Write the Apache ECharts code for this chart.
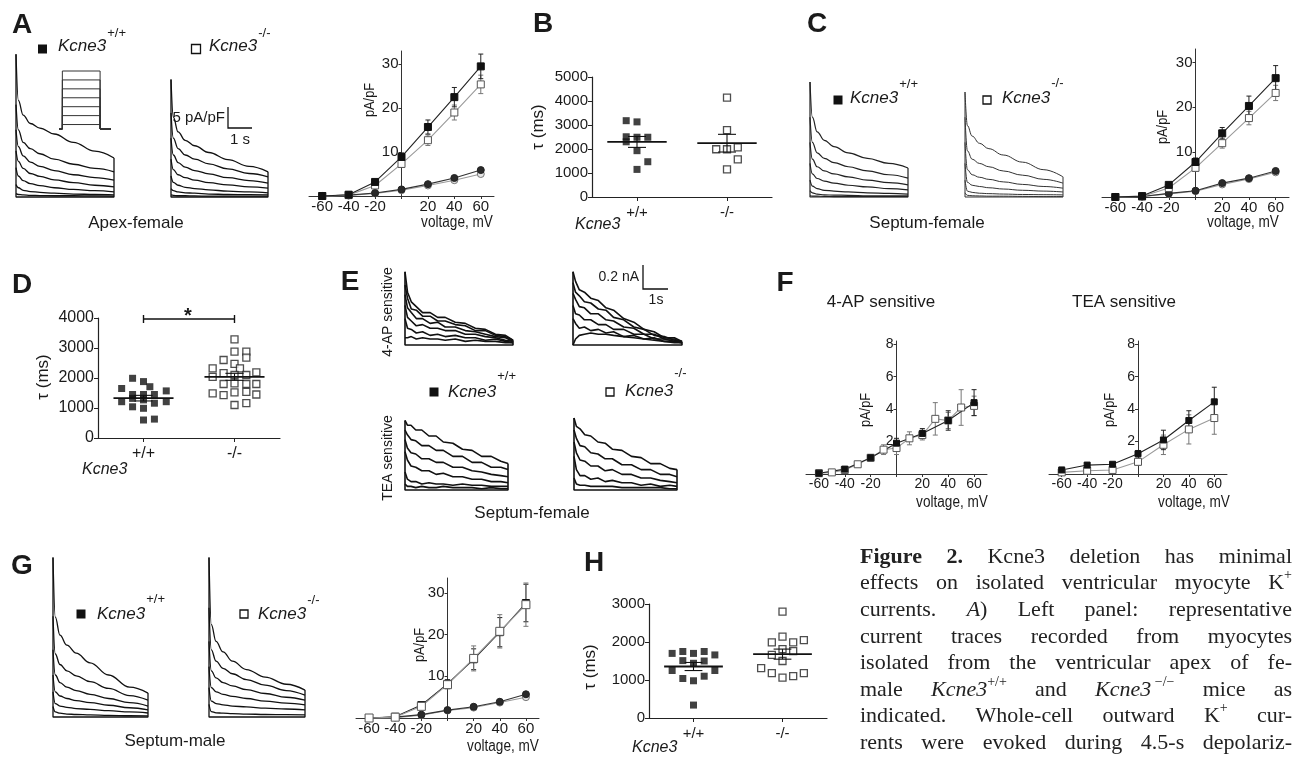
<!DOCTYPE html>
<html>
<head>
<meta charset="utf-8">
<script src="https://cdn.jsdelivr.net/npm/echarts@6/dist/echarts.min.js"></script>
<style>html,body{margin:0;padding:0;background:#fff}#chart{width:1294px;height:757px}</style>
</head>
<body>
<div id="chart"></div>
<script>
// ---------- data ----------
const ivVoltage = [-60, -40, -20, 0, 20, 40, 60];
const fVoltageKO = [-60, -50, -40, -30, -20, -10, 0, 10, 20, 30, 40, 50, 60];

// A) apex-female IV, pA/pF
const aPeakWT = [0, 0.3, 3.2, 8.9, 15.7, 22.5, 29.5];
const aPeakWTErr = [0, 0.1, 0.4, 0.9, 1.6, 2.2, 2.8];
const aPeakKO = [0, 0.2, 2.4, 7.3, 12.7, 19.0, 25.4];
const aPeakKOErr = [0, 0.1, 0.3, 0.8, 1.2, 1.7, 2.1];
const aSteadyWT = [0, 0.2, 0.7, 1.5, 2.7, 4.1, 5.9];
const aSteadyKO = [0, 0.1, 0.6, 1.3, 2.4, 3.6, 5.0];

// C) septum-female IV
const cPeakWT = [0, 0.2, 2.7, 7.8, 14.2, 20.3, 26.5];
const cPeakWTErr = [0, 0.1, 0.4, 0.9, 1.3, 2.2, 2.8];
const cPeakKO = [0, 0.1, 2.0, 6.5, 12.0, 17.6, 23.2];
const cPeakKOErr = [0, 0.1, 0.3, 0.8, 1.1, 1.5, 1.7];
const cSteadyWT = [0, 0.1, 0.8, 1.4, 3.1, 4.2, 5.8];
const cSteadyKO = [0, 0.1, 0.7, 1.3, 2.8, 4.0, 5.5];

// G) septum-male IV
const gPeakWT = [0, 0.3, 3.1, 8.2, 14.1, 20.6, 27.6];
const gPeakWTErr = [0, 0.1, 0.5, 1.0, 2.5, 3.5, 4.5];
const gPeakKO = [0, 0.2, 2.8, 8.0, 14.3, 20.8, 27.2];
const gPeakKOErr = [0, 0.1, 0.5, 1.0, 3.0, 4.0, 5.2];
const gSteadyWT = [0, 0.2, 0.8, 1.9, 2.7, 3.9, 5.7];
const gSteadyKO = [0, 0.1, 0.7, 1.8, 2.5, 3.7, 5.0];

// F) 4-AP and TEA sensitive IV
const f4apWT = [0.05, 0.3, 1.0, 1.9, 2.5, 3.3, 4.4];
const f4apWTErr = [0, 0.05, 0.1, 0.3, 0.3, 0.6, 0.8];
const f4apKO = [0.05, 0.1, 0.25, 0.6, 1.0, 1.5, 1.6, 2.2, 2.4, 3.4, 3.3, 4.1, 4.2];
const f4apKOErr = [0, 0, 0.05, 0.1, 0.2, 0.3, 0.4, 0.4, 0.3, 1.0, 0.5, 1.1, 0.6];
const fTeaWT = [0.25, 0.55, 0.6, 1.25, 2.1, 3.3, 4.45];
const fTeaWTErr = [0.05, 0.1, 0.1, 0.2, 0.6, 0.6, 0.9];
const fTeaKO = [0.1, 0.2, 0.25, 0.75, 1.8, 2.75, 3.45];
const fTeaKOErr = [0.05, 0.05, 0.1, 0.2, 0.6, 0.9, 1.0];

// B, D, H) tau (ms), with horizontal spread of the dots in category units
const bTauWT = [3180, 3130, 2510, 2490, 2490, 2300, 1930, 1470, 1150];
const bJitWT = [-0.12, 0, -0.12, 0, 0.12, -0.12, 0, 0.12, 0];
const bTauKO = [4140, 2790, 1990, 1990, 2070, 1570, 1150];
const bJitKO = [0, 0, -0.12, 0, 0.12, 0.12, 0];

const dTauWT = [1990, 1880, 1650, 1710, 1570, 1450, 1450, 1450, 1210, 1320, 1270, 1160, 1210, 1040, 990, 600, 630];
const dJitWT = [-0.12, 0, -0.24, 0.07, 0.25, -0.12, 0, 0.12, -0.24, -0.12, 0, 0.12, 0.25, -0.12, 0, 0, 0.12];
const dTauKO = [3290, 2880, 2880, 2680, 2600, 2470, 2320, 2320, 2160, 2190, 2040, 2100, 2100, 1800, 1820, 1800, 1800, 1490, 1520, 1540, 1430, 1450, 1100, 1160];
const dJitKO = [0, 0, 0.13, 0.13, -0.12, 0, -0.24, 0.06, -0.12, 0.24, -0.24, 0, 0.13, -0.12, 0, 0.13, 0.24, -0.24, 0, 0.13, -0.12, 0.24, 0, 0.13];

const hTauWT = [1700, 1750, 1700, 1750, 1660, 1510, 1500, 1440, 1250, 1250, 1040, 980, 1100, 340];
const hJitWT = [-0.24, -0.12, 0, 0.12, 0.24, -0.12, 0.12, 0, -0.24, 0.24, -0.12, 0, 0.12, 0];
const hTauKO = [2800, 2140, 1990, 1990, 1810, 1760, 1660, 1500, 1310, 1180, 1060, 1100, 2050, 1180];
const hJitKO = [0, 0, -0.12, 0.12, 0, 0.12, -0.12, 0, -0.24, -0.12, 0, 0.12, 0.24, 0.24];

// current traces: time (s) and current (pA/pF)
const traceT = [0, 0.1, 0.3, 0.6, 1.0, 1.6, 2.4, 3.3, 4.1];
const aTracesWT = [
  [34, 23, 19.5, 17.5, 16.4, 15, 13, 10.9, 9.3],
  [22, 16, 13, 11.5, 10.3, 9, 7.8, 6.8, 6.0],
  [16, 12, 9.8, 8.3, 7.3, 6.3, 5.3, 4.6, 4.0],
  [11, 8.5, 6.8, 5.6, 4.9, 4.1, 3.4, 2.8, 2.4],
  [7, 5, 3.9, 3.2, 2.7, 2.2, 1.8, 1.5, 1.2],
  [3, 2.2, 1.6, 1.3, 1.1, 0.9, 0.7, 0.6, 0.5],
  [0.8, 0.6, 0.5, 0.4, 0.35, 0.3, 0.3, 0.25, 0.2]
];
const aTracesKO = [
  [28, 19, 15.5, 13.5, 12.2, 10.6, 8.9, 7.3, 6.0],
  [20, 14, 11.5, 10, 9, 7.9, 6.7, 5.6, 4.8],
  [14, 10, 8.2, 7.1, 6.3, 5.5, 4.6, 3.9, 3.3],
  [9, 6.5, 5.3, 4.6, 4.0, 3.4, 2.9, 2.4, 2.1],
  [5, 3.5, 2.8, 2.3, 2.0, 1.7, 1.4, 1.2, 1.0],
  [2, 1.5, 1.2, 1.0, 0.9, 0.7, 0.6, 0.55, 0.5],
  [0.5, 0.4, 0.3, 0.3, 0.25, 0.2, 0.2, 0.2, 0.2]
];
const cTracesWT = [
  [27.4, 19, 15.5, 13.5, 12, 10.5, 9.2, 8, 6.9],
  [19, 13, 10.5, 9.2, 8.2, 7.2, 6.2, 5.3, 4.5],
  [13, 9, 7.2, 6.2, 5.5, 4.8, 4.0, 3.4, 2.9],
  [8, 5.5, 4.4, 3.8, 3.3, 2.8, 2.4, 2.0, 1.7],
  [4, 2.6, 2.0, 1.6, 1.4, 1.2, 1.0, 0.85, 0.7],
  [1.5, 1.0, 0.7, 0.5, 0.45, 0.4, 0.3, 0.3, 0.25],
  [0.3, 0.2, 0.2, 0.15, 0.1, 0.1, 0.1, 0.1, 0.1]
];
const cTracesKO = [
  [25, 17, 14.5, 12.8, 11.5, 10, 8.3, 6.5, 4.8],
  [19, 11, 9, 8, 7.2, 6.2, 5.2, 4.2, 3.3],
  [13, 6.5, 5.3, 4.7, 4.2, 3.6, 3.0, 2.5, 2.1],
  [8, 3.5, 2.8, 2.5, 2.2, 1.9, 1.6, 1.4, 1.2],
  [4, 1.4, 1.1, 0.9, 0.8, 0.7, 0.6, 0.55, 0.5],
  [1, 0.4, 0.3, 0.25, 0.2, 0.2, 0.15, 0.1, 0.1]
];
const gTracesWT = [
  [38, 23.8, 19.5, 17.1, 15.2, 12.9, 10, 7.1, 5.7],
  [24, 15, 12.5, 11, 9.8, 8.4, 6.8, 5.1, 4.0],
  [16, 10, 8.2, 7.1, 6.3, 5.4, 4.4, 3.4, 2.6],
  [10, 6, 5, 4.4, 3.9, 3.4, 2.8, 2.2, 1.7],
  [6, 3.2, 2.6, 2.3, 2.0, 1.8, 1.5, 1.2, 0.95],
  [2.5, 1.2, 0.9, 0.7, 0.6, 0.5, 0.4, 0.3, 0.25]
];
const gTracesKO = [
  [38, 22, 18, 15.5, 13.3, 11.3, 9.5, 7.8, 6.4],
  [26, 16, 13.3, 11.6, 10.3, 8.9, 7.6, 6.3, 5.2],
  [18, 11, 9.3, 8.2, 7.4, 6.5, 5.6, 4.7, 4.0],
  [12, 7, 6.0, 5.4, 4.9, 4.4, 3.8, 3.3, 2.9],
  [7, 3.8, 3.2, 2.9, 2.6, 2.4, 2.1, 1.9, 1.7],
  [3, 1.3, 1.0, 0.9, 0.8, 0.7, 0.6, 0.55, 0.5]
];

// E) 4-AP / TEA sensitive traces: time (s) and current (nA)
const eT = [0, 0.1, 0.25, 0.45, 0.7, 1.0, 1.3, 1.6, 2.0, 2.4, 2.8, 3.2, 3.6, 4.0, 4.3];
const e4apWT = [
  [0.61, 0.44, 0.36, 0.32, 0.27, 0.27, 0.23, 0.23, 0.19, 0.18, 0.14, 0.13, 0.09, 0.08, 0.04],
  [0.50, 0.39, 0.30, 0.29, 0.24, 0.24, 0.20, 0.20, 0.17, 0.16, 0.12, 0.12, 0.08, 0.07, 0.04],
  [0.42, 0.31, 0.27, 0.22, 0.22, 0.18, 0.19, 0.15, 0.15, 0.12, 0.11, 0.09, 0.07, 0.06, 0.03],
  [0.33, 0.23, 0.20, 0.16, 0.17, 0.14, 0.14, 0.12, 0.12, 0.09, 0.09, 0.07, 0.06, 0.04, 0.03],
  [0.22, 0.14, 0.13, 0.10, 0.11, 0.08, 0.09, 0.07, 0.08, 0.06, 0.06, 0.04, 0.05, 0.03, 0.02],
  [0.06, 0.06, 0.07, 0.05, 0.06, 0.05, 0.05, 0.04, 0.05, 0.03, 0.04, 0.03, 0.03, 0.02, 0.02]
];
const e4apKO = [
  [0.61, 0.53, 0.46, 0.44, 0.39, 0.37, 0.31, 0.29, 0.22, 0.19, 0.13, 0.11, 0.06, 0.06, 0.03],
  [0.52, 0.44, 0.41, 0.36, 0.35, 0.30, 0.29, 0.23, 0.21, 0.15, 0.13, 0.08, 0.07, 0.04, 0.03],
  [0.43, 0.38, 0.32, 0.31, 0.26, 0.26, 0.21, 0.20, 0.15, 0.14, 0.09, 0.09, 0.05, 0.05, 0.02],
  [0.33, 0.26, 0.25, 0.21, 0.21, 0.17, 0.17, 0.13, 0.13, 0.09, 0.09, 0.05, 0.05, 0.03, 0.02],
  [0.22, 0.18, 0.14, 0.15, 0.12, 0.13, 0.10, 0.11, 0.07, 0.08, 0.05, 0.06, 0.03, 0.03, 0.02],
  [0.00, 0.05, 0.08, 0.09, 0.10, 0.09, 0.09, 0.08, 0.07, 0.06, 0.05, 0.04, 0.03, 0.02, 0.02]
];
const eTeaWT = [
  [0.58, 0.54, 0.54, 0.50, 0.50, 0.45, 0.45, 0.40, 0.39, 0.34, 0.33, 0.28, 0.28, 0.24, 0.22],
  [0.50, 0.46, 0.42, 0.41, 0.37, 0.37, 0.33, 0.33, 0.28, 0.28, 0.23, 0.23, 0.19, 0.19, 0.17],
  [0.42, 0.35, 0.31, 0.30, 0.26, 0.26, 0.23, 0.23, 0.19, 0.19, 0.16, 0.15, 0.13, 0.12, 0.11],
  [0.32, 0.25, 0.20, 0.19, 0.16, 0.16, 0.13, 0.14, 0.11, 0.11, 0.09, 0.09, 0.07, 0.07, 0.06],
  [0.15, 0.09, 0.07, 0.07, 0.05, 0.06, 0.05, 0.05, 0.04, 0.05, 0.04, 0.04, 0.03, 0.03, 0.03],
  [0.05, 0.03, 0.03, 0.02, 0.03, 0.02, 0.02, 0.03, 0.02, 0.02, 0.02, 0.01, 0.02, 0.01, 0.01]
];
const eTeaKO = [
  [0.60, 0.53, 0.51, 0.46, 0.45, 0.40, 0.39, 0.34, 0.33, 0.28, 0.27, 0.22, 0.22, 0.18, 0.17],
  [0.50, 0.43, 0.37, 0.36, 0.31, 0.30, 0.26, 0.26, 0.21, 0.21, 0.17, 0.17, 0.13, 0.13, 0.11],
  [0.40, 0.31, 0.25, 0.24, 0.20, 0.20, 0.16, 0.17, 0.13, 0.13, 0.10, 0.10, 0.08, 0.07, 0.06],
  [0.28, 0.17, 0.12, 0.12, 0.09, 0.10, 0.07, 0.08, 0.06, 0.06, 0.04, 0.05, 0.03, 0.04, 0.03],
  [0.10, 0.05, 0.04, 0.04, 0.03, 0.03, 0.03, 0.03, 0.02, 0.02, 0.02, 0.02, 0.02, 0.01, 0.01]
];

// voltage protocol (mV), step from 0 to 4.5 s
const protocolSteps = [-60, -40, -20, 0, 20, 40, 60];
const protocolHold = -70;
const protocolT = [-0.4, 0, 4.5, 5.8];

const captionLines = [
  [[['Figure', 'b']], [['2.', 'b']], 'Kcne3', 'deletion', 'has', 'minimal'],
  ['effects', 'on', 'isolated', 'ventricular', 'myocyte', [['K', 'r'], ['+', 's']]],
  ['currents.', [['A', 'i'], [')', 'r']], 'Left', 'panel:', 'representative'],
  ['current', 'traces', 'recorded', 'from', 'myocytes'],
  ['isolated', 'from', 'the', 'ventricular', 'apex', 'of', 'fe-'],
  ['male', [['Kcne3', 'i'], ['+/+', 's']], 'and', [['Kcne3', 'i'], [' \u2212/\u2212', 's']], 'mice', 'as'],
  ['indicated.', 'Whole-cell', 'outward', [['K', 'r'], ['+', 's']], 'cur-'],
  ['rents', 'were', 'evoked', 'during', '4.5-s', 'depolariz-']
];

// ---------- building ----------
const SANS = '"Liberation Sans", Arial, Helvetica, sans-serif';
const SERIF = '"Liberation Serif", "Times New Roman", serif';
const INK = '#1a1a1a';

const chartDom = document.getElementById('chart');
const myChart = echarts.init(chartDom);

const grids = [], xAxes = [], yAxes = [], series = [], graphics = [];
const ctx = document.createElement('canvas').getContext('2d');
function mw(text, font) { ctx.font = font; return ctx.measureText(text).width; }

function addGrid(left, top, width, height, xa, ya) {
  const gi = grids.length;
  grids.push({ left, top, width, height, containLabel: false });
  xAxes.push(Object.assign({ gridIndex: gi }, xa));
  yAxes.push(Object.assign({ gridIndex: gi }, ya));
  return gi;
}

function txt(x, y, text, font, align, rotation, fill, scaleX) {
  return {
    type: 'text', x, y, rotation: rotation || 0, scaleX: scaleX || 1, silent: true,
    style: {
      text, font, fill: fill || INK,
      textAlign: align || 'center', align: align || 'center',
      textVerticalAlign: 'middle', verticalAlign: 'middle'
    }
  };
}

// trace panels
function traceGrid(left, width, base, pxPerUnit, ymax, xmax) {
  const h = ymax * pxPerUnit;
  return addGrid(left, base - h, width, h,
    { type: 'value', show: false, min: 0, max: xmax },
    { type: 'value', show: false, min: 0, max: ymax });
}
function addTraces(gi, times, traces, color, width, smooth) {
  const tEnd = times[times.length - 1];
  traces.forEach(v => {
    series.push({ type: 'line', xAxisIndex: gi, yAxisIndex: gi, data: v.map((y, i) => [times[i], y]),
      smooth: smooth, smoothMonotone: 'x', symbol: 'none', clip: false, silent: true,
      lineStyle: { color, width } });
  });
  const peak = Math.max(...traces.map(v => v[0]));
  const endMax = Math.max(...traces.map(v => v[v.length - 1]));
  series.push({ type: 'line', xAxisIndex: gi, yAxisIndex: gi, data: [[0, peak], [0, 0], [tEnd, 0], [tEnd, endMax]],
    symbol: 'none', clip: false, silent: true, lineStyle: { color, width } });
}

// IV panels: the y axis sits on 0 mV
function ivGrid(left, top, width, height, ymax, yInterval, fs) {
  return addGrid(left, top, width, height,
    {
      type: 'value', min: -70, max: 70,
      axisLine: { onZero: true, lineStyle: { color: '#333', width: 1 } },
      axisTick: { show: true, customValues: [-60, -40, -20, 0, 20, 40, 60], length: 3, lineStyle: { color: '#333' } },
      axisLabel: { customValues: [-60, -40, -20, 20, 40, 60], fontFamily: SANS, fontSize: fs, color: INK, margin: 3 },
      splitLine: { show: false }
    },
    {
      type: 'value', min: 0, max: ymax, interval: yInterval, offset: -width / 2,
      axisLine: { show: true, onZero: false, lineStyle: { color: '#333', width: 1 } },
      axisTick: { show: true, length: 3, lineStyle: { color: '#333' } },
      axisLabel: { formatter: v => (v === 0 ? '' : String(v)), showMaxLabel: false, fontFamily: SANS, fontSize: fs, color: INK, margin: 3 },
      splitLine: { show: false }
    });
}
const ivStyles = {
  wtSq: { symbol: 'rect', size: 7, fill: '#111', stroke: '#111', line: '#222', err: '#222' },
  koSq: { symbol: 'rect', size: 7, fill: '#fff', stroke: '#555', line: '#9a9a9a', err: '#777' },
  wtCi: { symbol: 'circle', size: 7, fill: '#2a2a2a', stroke: '#222', line: '#333', err: '#333' },
  koCi: { symbol: 'circle', size: 7, fill: '#e6e6e6', stroke: '#777', line: '#9a9a9a', err: '#777' }
};
function addIV(gi, xs, ys, errs, kind, size) {
  const s = ivStyles[kind];
  if (errs) {
    series.push({
      type: 'custom', xAxisIndex: gi, yAxisIndex: gi, z: 2, silent: true,
      data: xs.map((x, i) => [x, ys[i], errs[i]]),
      renderItem(params, api) {
        const x = api.value(0), y = api.value(1), e = api.value(2);
        if (!e) return null;
        const t = api.coord([x, y + e]), b = api.coord([x, y - e]);
        const st = { stroke: s.err, lineWidth: 1 };
        return { type: 'group', children: [
          { type: 'line', shape: { x1: t[0], y1: t[1], x2: b[0], y2: b[1] }, style: st },
          { type: 'line', shape: { x1: t[0] - 2.5, y1: t[1], x2: t[0] + 2.5, y2: t[1] }, style: st },
          { type: 'line', shape: { x1: b[0] - 2.5, y1: b[1], x2: b[0] + 2.5, y2: b[1] }, style: st }
        ] };
      }
    });
  }
  series.push({
    type: 'line', xAxisIndex: gi, yAxisIndex: gi, z: 3, clip: false, silent: true,
    data: xs.map((x, i) => [x, ys[i]]),
    symbol: s.symbol, symbolSize: size || s.size, showAllSymbol: true,
    itemStyle: { color: s.fill, borderColor: s.stroke, borderWidth: 1 },
    lineStyle: { color: s.line, width: 1.1 }
  });
}

// dot plots: categories sit at 0.5 and 1.5 on a 0..2 axis
function dotGrid(left, top, width, height, ymax, fs) {
  return addGrid(left, top, width, height,
    {
      type: 'value', min: 0, max: 2,
      axisLine: { onZero: false, lineStyle: { color: '#222', width: 1.2 } },
      axisTick: { show: true, customValues: [0.5, 1.5], length: 4, lineStyle: { color: '#222' } },
      axisLabel: { customValues: [0.5, 1.5], formatter: v => (v < 1 ? '+/+' : '-/-'), fontFamily: SANS, fontSize: fs, color: INK, margin: 8 },
      splitLine: { show: false }
    },
    {
      type: 'value', min: 0, max: ymax, interval: 1000,
      axisLine: { show: true, lineStyle: { color: '#222', width: 1.2 } },
      axisTick: { show: true, length: 4, lineStyle: { color: '#222' } },
      axisLabel: { formatter: v => String(v), fontFamily: SANS, fontSize: fs, color: INK, margin: 4 },
      splitLine: { show: false }
    });
}
function addDots(gi, center, jit, vals, wt, size) {
  series.push({
    type: 'scatter', xAxisIndex: gi, yAxisIndex: gi, z: 3, silent: true,
    data: vals.map((v, i) => [center + jit[i], v]),
    symbol: 'rect', symbolSize: size,
    itemStyle: wt ? { color: '#111' } : { color: '#fff', borderColor: '#222', borderWidth: 1.3 }
  });
  const n = vals.length;
  const mean = vals.reduce((a, b) => a + b, 0) / n;
  const sd = Math.sqrt(vals.reduce((a, b) => a + (b - mean) * (b - mean), 0) / (n - 1));
  const sem = sd / Math.sqrt(n);
  series.push({
    type: 'custom', xAxisIndex: gi, yAxisIndex: gi, z: 4, silent: true,
    data: [[center, mean, sem]],
    renderItem(params, api) {
      const c = api.value(0), m = api.value(1), e = api.value(2);
      const l = api.coord([c - 0.33, m]), r = api.coord([c + 0.33, m]);
      const t = api.coord([c, m + e]), b = api.coord([c, m - e]);
      const w = api.size([0.1, 0])[0];
      const st = { stroke: '#111', lineWidth: 1.8 };
      const st2 = { stroke: '#111', lineWidth: 1.1 };
      return { type: 'group', children: [
        { type: 'line', shape: { x1: l[0], y1: l[1], x2: r[0], y2: r[1] }, style: st },
        { type: 'line', shape: { x1: t[0], y1: t[1], x2: b[0], y2: b[1] }, style: st2 },
        { type: 'line', shape: { x1: t[0] - w, y1: t[1], x2: t[0] + w, y2: t[1] }, style: st2 },
        { type: 'line', shape: { x1: b[0] - w, y1: b[1], x2: b[0] + w, y2: b[1] }, style: st2 }
      ] };
    }
  });
}

function genotype(sqX, sqY, sq, textX, textY, wt, fs, supFs, supDy) {
  graphics.push({ type: 'rect', silent: true, shape: { x: sqX - sq / 2, y: sqY - sq / 2, width: sq, height: sq },
    style: wt ? { fill: '#111' } : { fill: '#fff', stroke: '#111', lineWidth: 1.3 } });
  const f = `italic ${fs}px ${SANS}`;
  graphics.push(txt(textX, textY, 'Kcne3', f, 'left'));
  graphics.push(txt(textX + mw('Kcne3', f) + 1, textY - supDy, wt ? '+/+' : '-/-', `${supFs}px ${SANS}`, 'left'));
}

// ----- A -----
const gA1 = traceGrid(16, 98, 197, 4.2, 34.3, 4.1);
addTraces(gA1, traceT, aTracesWT, '#111', 1.3, 0.4);
const gA2 = traceGrid(171, 97, 197, 4.2, 34.3, 4.1);
addTraces(gA2, traceT, aTracesKO, '#111', 1.3, 0.4);
const gAp = addGrid(59, 71, 52, 58, { type: 'value', show: false, min: -0.4, max: 5.8 }, { type: 'value', show: false, min: -70, max: 60 });
protocolSteps.forEach(v => {
  series.push({ type: 'line', xAxisIndex: gAp, yAxisIndex: gAp, symbol: 'none', clip: false, silent: true,
    data: [[protocolT[0], protocolHold], [protocolT[1], protocolHold], [protocolT[1], v], [protocolT[2], v], [protocolT[2], protocolHold], [protocolT[3], protocolHold]],
    lineStyle: { color: '#333', width: 1 } });
});
const gAiv = ivGrid(309, 51, 185, 145, 33, 10, 15);
addIV(gAiv, ivVoltage, aSteadyKO, null, 'koCi');
addIV(gAiv, ivVoltage, aSteadyWT, null, 'wtCi');
addIV(gAiv, ivVoltage, aPeakKO, aPeakKOErr, 'koSq');
addIV(gAiv, ivVoltage, aPeakWT, aPeakWTErr, 'wtSq');

// ----- B -----
const gB = dotGrid(592, 77, 180, 120, 5000, 15);
addDots(gB, 0.5, bJitWT, bTauWT, true, 7);
addDots(gB, 1.5, bJitKO, bTauKO, false, 7);

// ----- C -----
const gC1 = traceGrid(810, 98, 197, 4.2, 27.4, 4.1);
addTraces(gC1, traceT, cTracesWT, '#222', 1.2, 0.4);
const gC2 = traceGrid(965, 98, 197, 4.2, 25, 4.1);
addTraces(gC2, traceT, cTracesKO, '#333', 1, 0.4);
const gCiv = ivGrid(1102, 49, 187, 148, 33, 10, 15);
addIV(gCiv, ivVoltage, cSteadyKO, null, 'koCi');
addIV(gCiv, ivVoltage, cSteadyWT, null, 'wtCi');
addIV(gCiv, ivVoltage, cPeakKO, cPeakKOErr, 'koSq');
addIV(gCiv, ivVoltage, cPeakWT, cPeakWTErr, 'wtSq');

// ----- D -----
const gD = dotGrid(98, 318, 182, 120, 4000, 16);
addDots(gD, 0.5, dJitWT, dTauWT, true, 7);
addDots(gD, 1.5, dJitKO, dTauKO, false, 7);
series.push({
  type: 'custom', xAxisIndex: gD, yAxisIndex: gD, silent: true, z: 5,
  data: [[0.5, 1.5, 3967]],
  renderItem(params, api) {
    const a = api.coord([api.value(0), api.value(2)]), b = api.coord([api.value(1), api.value(2)]);
    const st = { stroke: '#111', lineWidth: 1.4 };
    return { type: 'group', children: [
      { type: 'line', shape: { x1: a[0], y1: a[1], x2: b[0], y2: b[1] }, style: st },
      { type: 'line', shape: { x1: a[0], y1: a[1] - 4, x2: a[0], y2: a[1] + 4 }, style: st },
      { type: 'line', shape: { x1: b[0], y1: b[1] - 4, x2: b[0], y2: b[1] + 4 }, style: st }
    ] };
  }
});

// ----- E -----
const gE1 = traceGrid(405, 108, 345, 120, 0.61, 4.3);
addTraces(gE1, eT, e4apWT, '#111', 1.6, false);
const gE2 = traceGrid(573, 109, 345, 120, 0.61, 4.3);
addTraces(gE2, eT, e4apKO, '#111', 1.6, false);
const gE3 = traceGrid(405, 103, 490, 120, 0.6, 4.3);
addTraces(gE3, eT, eTeaWT, '#111', 1.6, false);
const gE4 = traceGrid(574, 103, 490, 120, 0.6, 4.3);
addTraces(gE4, eT, eTeaKO, '#111', 1.6, false);

// ----- F -----
const gF1 = ivGrid(806, 341, 181, 133, 8.2, 2, 14);
addIV(gF1, fVoltageKO, f4apKO, f4apKOErr, 'koSq', 7);
addIV(gF1, ivVoltage, f4apWT, f4apWTErr, 'wtSq', 6);
const gF2 = ivGrid(1049, 341, 178, 133, 8.2, 2, 14);
addIV(gF2, ivVoltage, fTeaKO, fTeaKOErr, 'koSq', 7);
addIV(gF2, ivVoltage, fTeaWT, fTeaWTErr, 'wtSq', 6);

// ----- G -----
const gG1 = traceGrid(53, 95, 717, 4.2, 38, 4.1);
addTraces(gG1, traceT, gTracesWT, '#111', 1.3, 0.4);
const gG2 = traceGrid(209, 96, 717, 4.2, 38, 4.1);
addTraces(gG2, traceT, gTracesKO, '#111', 1.3, 0.4);
const gGiv = ivGrid(356, 578, 183, 140, 33.6, 10, 15);
addIV(gGiv, ivVoltage, gSteadyKO, null, 'koCi');
addIV(gGiv, ivVoltage, gSteadyWT, null, 'wtCi');
addIV(gGiv, ivVoltage, gPeakWT, gPeakWTErr, 'wtSq');
addIV(gGiv, ivVoltage, gPeakKO, gPeakKOErr, 'koSq', 8);

// ----- H -----
const gH = dotGrid(649, 604, 178, 114, 3000, 15);
addDots(gH, 0.5, hJitWT, hTauWT, true, 7);
addDots(gH, 1.5, hJitKO, hTauKO, false, 7);

// ---------- texts ----------
const LETTER = `bold 28px ${SANS}`;
[['A', 22, 25], ['B', 543, 24], ['C', 817, 24], ['D', 22, 285], ['E', 350, 282], ['F', 785, 283], ['G', 22, 566], ['H', 594, 563]]
  .forEach(([t, x, y]) => graphics.push(txt(x, y, t, LETTER)));

const LAB = `17px ${SANS}`;
graphics.push(txt(136, 223, 'Apex-female', LAB));
graphics.push(txt(927, 223, 'Septum-female', LAB));
graphics.push(txt(532, 513, 'Septum-female', LAB));
graphics.push(txt(175, 741, 'Septum-male', LAB));
graphics.push(txt(881, 302, '4-AP sensitive', LAB));
graphics.push(txt(1124, 302, 'TEA sensitive', LAB));

const VOLT = `16px ${SANS}`;
[[457, 223], [1243, 223], [952, 503], [1194, 503], [503, 747]].forEach(([x, y]) => graphics.push(txt(x, y, 'voltage, mV', VOLT, 'center', 0, INK, 0.85)));
const PAPF = `15px ${SANS}`;
[[370, 100], [1163, 127], [866, 410], [1110, 410], [420, 645]].forEach(([x, y]) => graphics.push(txt(x, y, 'pA/pF', PAPF, 'center', Math.PI / 2, INK, 0.85)));

const TAU = `17px ${SANS}`;
[[538, 127], [43, 377], [590, 667]].forEach(([x, y]) => graphics.push(txt(x, y, '\u03C4 (ms)', TAU, 'center', Math.PI / 2)));
const KC = `italic 16px ${SANS}`;
graphics.push(txt(575, 225, 'Kcne3', KC, 'left'));
graphics.push(txt(82, 470, 'Kcne3', KC, 'left'));
graphics.push(txt(632, 748, 'Kcne3', KC, 'left'));
graphics.push(txt(188, 316, '*', `bold 20px ${SANS}`));

const ES = `14px ${SANS}`;
graphics.push(txt(388, 312, '4-AP sensitive', ES, 'center', Math.PI / 2));
graphics.push(txt(388, 458, 'TEA sensitive', ES, 'center', Math.PI / 2));

// genotype keys
genotype(42.5, 49, 9, 58, 46, true, 17, 13, 13);
genotype(196, 49, 9, 209, 46, false, 17, 13, 13);
genotype(838, 100, 9, 850, 98, true, 17, 13, 14);
genotype(987, 100, 8, 1002, 98, false, 17, 13, 15);
genotype(434, 392, 9, 448, 392, true, 17, 13, 16);
genotype(610, 392, 8, 625, 391, false, 17, 13, 18);
genotype(81, 614, 9, 97, 614, true, 17, 13, 15);
genotype(244, 614, 8, 258, 614, false, 17, 13, 14);

// scale bars
const bar = { stroke: '#111', lineWidth: 1.3 };
graphics.push({ type: 'polyline', silent: true, shape: { points: [[228, 107], [228, 128], [252, 128]] }, style: bar });
graphics.push(txt(225, 118, '5 pA/pF', `15px ${SANS}`, 'right'));
graphics.push(txt(240, 140, '1 s', `15px ${SANS}`));
graphics.push({ type: 'polyline', silent: true, shape: { points: [[643, 265], [643, 289], [668, 289]] }, style: bar });
graphics.push(txt(639, 277, '0.2 nA', `14px ${SANS}`, 'right'));
graphics.push(txt(656, 300, '1s', `14px ${SANS}`));

// caption, justified line by line
const capFont = { r: `22px ${SERIF}`, b: `bold 22px ${SERIF}`, i: `italic 22px ${SERIF}`, s: `14px ${SERIF}` };
const capLeft = 860, capRight = 1292, capTop = 557, capLineH = 26.6;
captionLines.forEach((line, li) => {
  const words = line.map(w => (typeof w === 'string' ? [[w, 'r']] : w));
  const widths = words.map(w => w.reduce((a, [t, k]) => a + mw(t, capFont[k]), 0));
  const total = widths.reduce((a, b) => a + b, 0);
  const gap = (capRight - capLeft - total) / (words.length - 1);
  const y = capTop + li * capLineH;
  let x = capLeft;
  words.forEach(w => {
    w.forEach(([t, k]) => {
      graphics.push(txt(x, k === 's' ? y - 8 : y, t, capFont[k], 'left', 0, '#222'));
      x += mw(t, capFont[k]);
    });
    x += gap;
  });
});

const option = {
  animation: false,
  backgroundColor: '#fff',
  grid: grids,
  xAxis: xAxes,
  yAxis: yAxes,
  series: series,
  graphic: { elements: graphics }
};
myChart.setOption(option);
</script>
</body>
</html>
